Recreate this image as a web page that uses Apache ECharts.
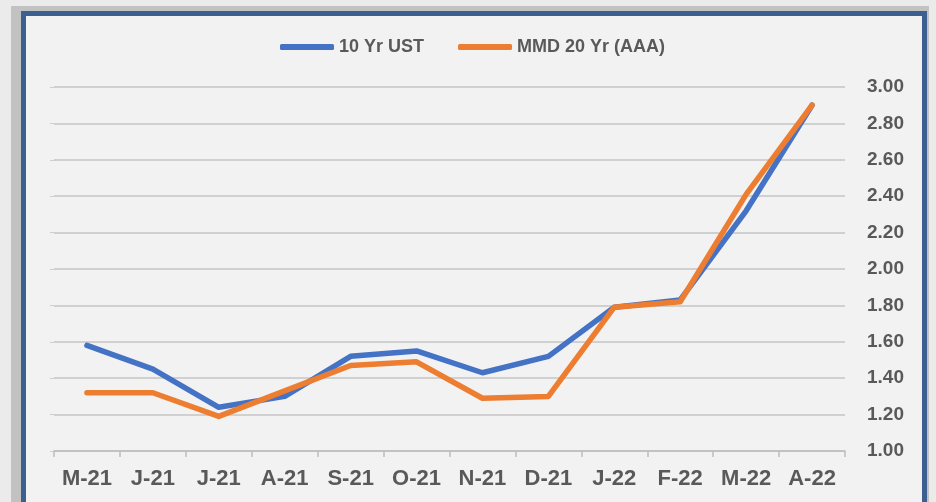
<!DOCTYPE html>
<html>
<head>
<meta charset="utf-8">
<script src="https://cdn.jsdelivr.net/npm/echarts@6/dist/echarts.min.js"></script>
<style>
  html, body { margin: 0; padding: 0; width: 936px; height: 502px; overflow: hidden; background: #ebebeb; }
  #shadow { position: absolute; left: 11px; top: 6px; width: 918px; height: 500px; background: #c2c2c2; }
  #frame { position: absolute; left: 21px; top: 11px; width: 896px; height: 490px;
           border: 5px solid #3b5f8e; border-bottom-width: 3px; background: #f2f2f2; }
  #chart { position: absolute; left: 0; top: 0; width: 936px; height: 502px; }
</style>
</head>
<body>
<div id="shadow"></div>
<div id="frame"></div>
<div id="chart"></div>
<script>
// month labels, May 2021 .. Apr 2022
const months = ['M-21', 'J-21', 'J-21', 'A-21', 'S-21', 'O-21', 'N-21', 'D-21', 'J-22', 'F-22', 'M-22', 'A-22'];
const ust10 = [1.58, 1.45, 1.24, 1.30, 1.52, 1.55, 1.43, 1.52, 1.79, 1.83, 2.32, 2.90];
const mmd20 = [1.32, 1.32, 1.19, 1.33, 1.47, 1.49, 1.29, 1.30, 1.79, 1.82, 2.41, 2.90];
const seriesNames = ['10 Yr UST', 'MMD 20 Yr (AAA)'];
const seriesColors = ['#4472c4', '#ed7d31'];

const textColor = '#595959';
const fontFamily = '"Liberation Sans", Arial, sans-serif';

const chart = echarts.init(document.getElementById('chart'));

const option = {
    animation: false,
    textStyle: { fontFamily: fontFamily },
    legend: {
        left: 275,
        top: 33,
        itemWidth: 54,
        itemHeight: 6,
        itemGap: 34,
        icon: 'roundRect',
        textStyle: { color: textColor, fontSize: 18, fontWeight: 'bold', fontFamily: fontFamily },
        data: seriesNames
    },
    grid: {
        left: 54,
        right: 91,
        top: 87,
        bottom: 51
    },
    xAxis: {
        type: 'category',
        data: months,
        boundaryGap: true,
        axisLine: { lineStyle: { color: '#bdbdbd', width: 1.5 } },
        axisTick: { show: true, length: 6, lineStyle: { color: '#bdbdbd', width: 1.5 } },
        axisLabel: { color: textColor, fontSize: 22, fontWeight: 'bold', margin: 17, fontFamily: fontFamily }
    },
    yAxis: [
        {
            type: 'value',
            position: 'right',
            min: 1,
            max: 3,
            interval: 0.2,
            axisLine: { show: false },
            axisTick: { show: false },
            axisLabel: {
                color: textColor,
                fontSize: 19,
                fontWeight: 'bold',
                margin: 22,
                fontFamily: fontFamily,
                formatter: v => v.toFixed(2)
            },
            splitLine: { lineStyle: { color: '#c4c4c4', width: 1.5 } }
        },
        {
            // faint tick marks on the left edge
            type: 'value',
            position: 'left',
            min: 1,
            max: 3,
            interval: 0.2,
            axisLine: { show: false },
            axisTick: { show: true, length: 4, inside: false, lineStyle: { color: '#cfcfcf', width: 1 } },
            axisLabel: { show: false },
            splitLine: { show: false }
        }
    ],
    series: [
        {
            name: seriesNames[0],
            type: 'line',
            data: ust10,
            yAxisIndex: 0,
            symbol: 'none',
            color: seriesColors[0],
            lineStyle: { width: 5.5, color: seriesColors[0], cap: 'round', join: 'round' }
        },
        {
            name: seriesNames[1],
            type: 'line',
            data: mmd20,
            yAxisIndex: 0,
            symbol: 'none',
            color: seriesColors[1],
            lineStyle: { width: 5.5, color: seriesColors[1], cap: 'round', join: 'round' }
        }
    ]
};

chart.setOption(option);
</script>
</body>
</html>
